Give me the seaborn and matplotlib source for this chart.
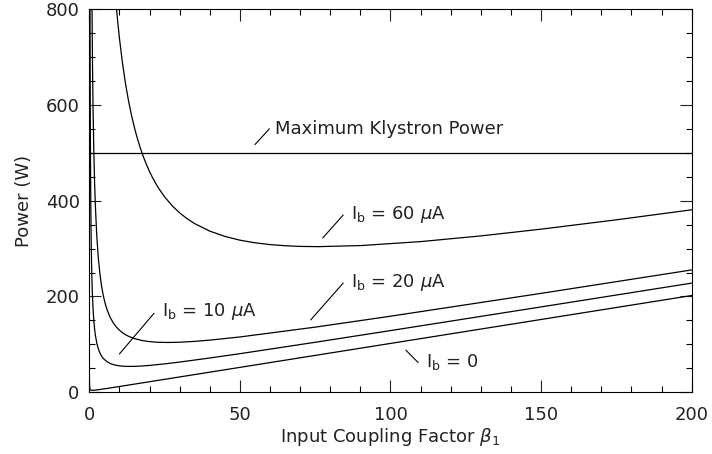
import numpy as np
import pandas as pd
import matplotlib.pyplot as plt
import seaborn as sns

# 各曲线数据
beta_ib0 = [0.001, 0.0015, 0.002, 0.003, 0.005, 0.01, 0.02, 0.05, 0.1, 0.2, 0.3, 0.5, 1, 2, 5, 10, 50, 100, 150, 200]
power_ib0 = [1002.0, 668.7, 502.0, 335.3, 202.0, 102.0, 52.0, 22.05, 12.1, 7.2, 5.6, 4.5, 4.0, 4.5, 7.2, 12.1,
             52.0, 102.0, 152.0, 202.0]

beta_ib10 = [0.2, 0.25, 0.3, 0.35, 0.4, 0.5, 0.6, 0.75, 0.85, 1, 1.25, 1.5, 1.75, 2, 2.5, 3, 3.5, 4, 4.5, 5, 6, 7,
             8, 9, 10, 11.5, 13.5, 15, 17, 20, 25, 30, 40, 50, 75, 100, 150, 200]
power_ib10 = [938.5, 756.3, 634.8, 548.1, 483.0, 392.0, 331.4, 270.8, 242.3, 210.3, 174.1, 150.0, 132.9, 120.1,
              102.4, 90.8, 82.6, 76.6, 72.0, 68.5, 63.4, 60.0, 57.8, 56.3, 55.2, 54.3, 54.0, 54.2, 54.7, 56.1,
              59.3, 63.1, 71.6, 80.6, 104.4, 128.8, 178.2, 227.9]

beta_ib20 = [0.8, 0.9, 1, 1.1, 1.25, 1.5, 1.75, 2, 2.5, 3, 3.5, 4, 4.5, 5, 5.5, 6, 7, 8, 9, 10, 11, 12, 13, 15,
             17.5, 20, 22.5, 26, 30, 35, 40, 50, 75, 100, 150, 200]
power_ib20 = [897.8, 804.0, 729.0, 667.6, 594.1, 504.2, 440.1, 392.0, 324.9, 280.3, 248.6, 225.0, 206.7, 192.2,
              180.4, 170.7, 155.6, 144.5, 136.1, 129.6, 124.5, 120.3, 117.0, 112.1, 108.1, 105.8, 104.5, 104.0,
              104.5, 106.3, 108.9, 115.5, 136.0, 158.8, 206.5, 255.4]

beta_ib60 = [8, 8.5, 9, 9.5, 10, 11, 12, 13, 14, 15, 16, 17, 18, 19, 20, 21, 22, 23, 25, 27.5, 30, 32.5, 35, 40,
             45, 50, 55, 60, 65, 70, 76, 90, 110, 130, 150, 175, 200]
power_ib60 = [882.0, 840.0, 802.8, 769.5, 739.6, 688.1, 645.3, 609.3, 578.6, 552.1, 529.0, 508.8, 490.9, 475.0,
              460.8, 448.0, 436.5, 426.1, 408.0, 389.5, 374.5, 362.2, 352.0, 336.4, 325.4, 317.5, 312.0, 308.3,
              305.9, 304.5, 304.0, 306.2, 314.5, 326.4, 340.5, 360.0, 380.9]

klystron_beta = [0, 200]
klystron_power = [500, 500]

sns.set_style("ticks")
plt.rcParams['font.family'] = ['DejaVu Sans']
plt.rcParams['mathtext.fontset'] = 'dejavusans'

fig = plt.figure(figsize=(7.12, 4.54), dpi=100)
ax = fig.add_axes([0.1254, 0.1359, 0.8461, 0.8443])

# 画曲线
for bx, py in [(beta_ib0, power_ib0), (beta_ib10, power_ib10),
               (beta_ib20, power_ib20), (beta_ib60, power_ib60),
               (klystron_beta, klystron_power)]:
    sns.lineplot(x=bx, y=py, ax=ax, color='black', linewidth=0.9, estimator=None, sort=True)

ax.set_xlim(0, 200)
ax.set_ylim(0, 800)
ax.set_xticks([0, 50, 100, 150, 200])
ax.set_yticks([0, 200, 400, 600, 800])
ax.set_xticks(np.arange(0, 201, 10), minor=True)
ax.set_yticks(np.arange(0, 801, 50), minor=True)
ax.tick_params(which='both', direction='in', top=True, right=True, color='black', width=0.8)
ax.tick_params(which='major', length=8.5, labelsize=13, colors='#222222')
ax.tick_params(which='minor', length=4.3)
ax.tick_params(axis='x', which='major', pad=10)
ax.tick_params(axis='y', which='major', pad=7)
for s in ax.spines.values():
    s.set_linewidth(0.8)
    s.set_color('black')

ax.set_xlabel(r'Input Coupling Factor $\beta_1$', fontsize=13, color='#222222', labelpad=1)
ax.set_ylabel('Power (W)', fontsize=13, color='#222222', labelpad=9)

# 标注
txt_kw = dict(fontsize=13, color='#222222', va='center', ha='left')
ax.plot([55.0, 59.8], [517, 550], color='black', linewidth=0.8)
ax.text(61.7, 550, 'Maximum Klystron Power', **txt_kw)

ax.plot([77.5, 84.3], [322, 370], color='black', linewidth=0.8)
ax.text(86.8, 372, r'I$_\mathrm{b}$ = 60 $\mu$A', **txt_kw)

ax.plot([73.5, 84.3], [151, 228], color='black', linewidth=0.8)
ax.text(86.8, 230, r'I$_\mathrm{b}$ = 20 $\mu$A', **txt_kw)

ax.plot([10.0, 21.5], [80, 165], color='black', linewidth=0.8)
ax.text(24.0, 168, r'I$_\mathrm{b}$ = 10 $\mu$A', **txt_kw)

ax.plot([105.1, 109.2], [88, 62], color='black', linewidth=0.8)
ax.text(111.8, 64, r'I$_\mathrm{b}$ = 0', **txt_kw)

fig.savefig('out.png', dpi=100)
